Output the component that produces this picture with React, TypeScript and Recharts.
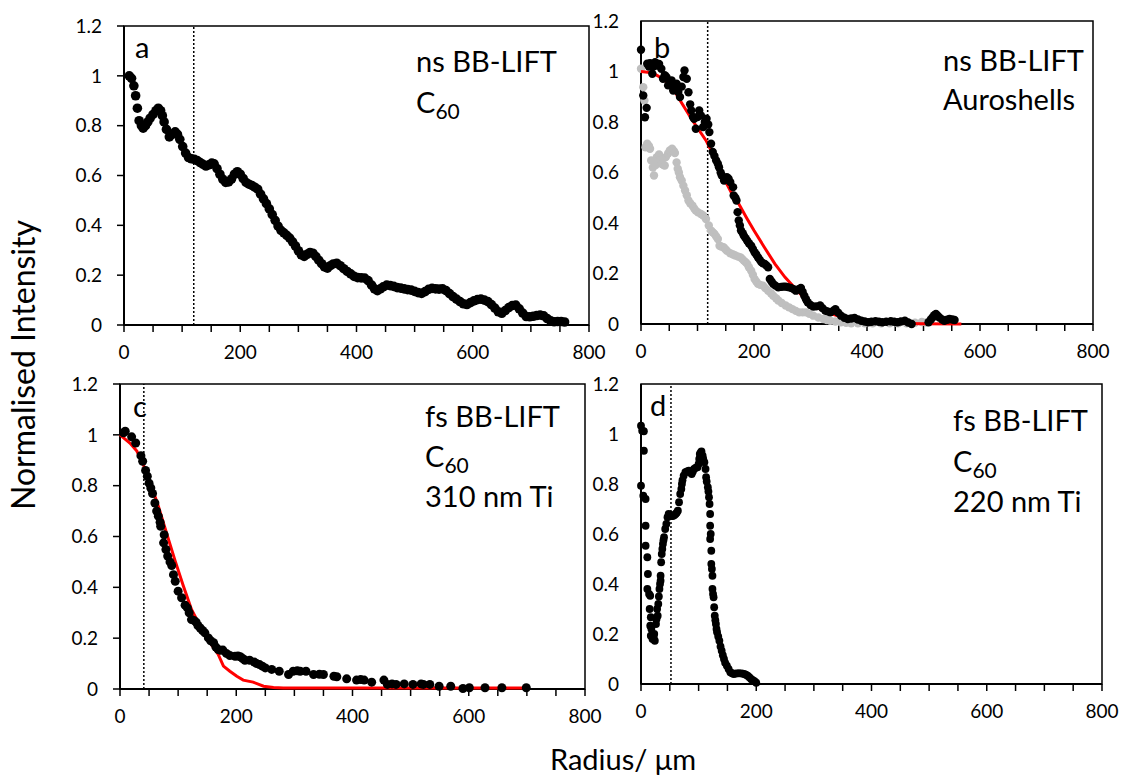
import React from 'react';
import { ScatterChart, Scatter, XAxis, YAxis, ReferenceLine, ReferenceArea } from 'recharts';

type Pt = [number, number];

const FONT = 'Lato, "Open Sans", sans-serif';

const xTicks = [0, 50, 100, 150, 200, 250, 300, 350, 400, 450, 500, 550, 600, 650, 700, 750, 800];
const xLabelled = [0, 200, 400, 600, 800];
const yTicks = [0, 0.2, 0.4, 0.6, 0.8, 1, 1.2];

// panel a: ns BB-LIFT, C60
const aBlack: Pt[] = [
  [9, 1.0], [13, 0.99], [17, 0.96], [20, 0.92], [23, 0.87], [26, 0.82], [30, 0.8], [33, 0.79], [37, 0.8],
  [41, 0.815], [45, 0.83], [50, 0.845], [55, 0.86], [59, 0.87], [63, 0.86], [66, 0.84], [69, 0.815], [73, 0.785],
  [78, 0.755], [83, 0.765], [88, 0.775], [92, 0.765], [96, 0.745], [101, 0.716], [106, 0.69], [111, 0.672],
  [116, 0.667], [121, 0.665], [126, 0.66], [131, 0.652], [136, 0.645], [141, 0.638], [146, 0.643], [151, 0.65],
  [155, 0.647], [160, 0.628], [165, 0.605], [170, 0.585], [175, 0.572], [180, 0.574], [185, 0.586], [190, 0.605],
  [195, 0.615], [200, 0.605], [205, 0.588], [210, 0.572], [215, 0.565], [220, 0.56], [225, 0.553], [230, 0.545],
  [235, 0.525], [240, 0.506], [245, 0.487], [250, 0.466], [255, 0.443], [260, 0.42], [265, 0.397], [270, 0.38],
  [275, 0.37], [280, 0.36], [285, 0.349], [290, 0.334], [295, 0.317], [300, 0.298], [305, 0.282], [310, 0.275],
  [315, 0.284], [320, 0.291], [325, 0.288], [330, 0.275], [335, 0.26], [340, 0.246], [345, 0.233], [350, 0.228],
  [355, 0.238], [360, 0.245], [366, 0.248], [372, 0.238], [378, 0.226], [384, 0.215], [390, 0.205], [396, 0.195],
  [402, 0.19], [408, 0.189], [414, 0.188], [420, 0.178], [426, 0.16], [431, 0.145], [436, 0.138], [441, 0.145],
  [446, 0.153], [452, 0.16], [458, 0.158], [464, 0.155], [470, 0.15], [476, 0.148], [482, 0.145], [488, 0.142],
  [494, 0.14], [500, 0.135], [506, 0.13], [512, 0.127], [518, 0.134], [524, 0.143], [530, 0.147], [536, 0.145],
  [542, 0.144], [548, 0.145], [554, 0.138], [560, 0.126], [566, 0.114], [572, 0.104], [578, 0.094], [584, 0.085],
  [590, 0.082], [596, 0.09], [602, 0.097], [608, 0.102], [614, 0.104], [620, 0.1], [626, 0.094], [632, 0.082],
  [638, 0.068], [644, 0.053], [650, 0.047], [656, 0.058], [662, 0.07], [668, 0.078], [674, 0.08], [680, 0.065],
  [686, 0.048], [692, 0.034], [698, 0.033], [704, 0.035], [710, 0.038], [716, 0.04], [722, 0.037], [728, 0.026],
  [734, 0.017], [740, 0.013], [746, 0.014], [752, 0.014], [758, 0.012],
];

// panel b: ns BB-LIFT, Auroshells
const bBlack: Pt[] = [
  [0, 1.086], [4, 0.905], [7, 0.819], [10, 0.856], [11, 1.031], [14, 1.02], [16, 1.033], [20, 0.991], [22, 1.02],
  [25, 1.037], [29, 1.024], [32, 1.03], [36, 1.011], [39, 0.971], [42, 0.985], [45, 0.978], [48, 0.945], [51, 0.955],
  [54, 0.965], [57, 0.925], [60, 0.94], [63, 0.952], [66, 0.92], [69, 0.899], [72, 0.94], [75, 0.978], [77, 1.004],
  [81, 0.971], [84, 0.918], [87, 0.87], [89, 0.846], [92, 0.82], [94, 0.813], [97, 0.773], [100, 0.82], [103, 0.846],
  [106, 0.826], [110, 0.78], [113, 0.8], [116, 0.813], [119, 0.79], [121, 0.76], [124, 0.714], [127, 0.681],
  [130, 0.665], [133, 0.648], [136, 0.635], [138, 0.621], [141, 0.6], [143, 0.588], [147, 0.568], [152, 0.581],
  [155, 0.575], [158, 0.562], [163, 0.542], [164, 0.509], [167, 0.5], [169, 0.489], [171, 0.443], [173, 0.41],
  [175, 0.39], [177, 0.37], [180, 0.36], [182, 0.35], [185, 0.34], [188, 0.33], [191, 0.32], [195, 0.31],
  [198, 0.297], [201, 0.284], [204, 0.275], [207, 0.264], [210, 0.255], [213, 0.245], [216, 0.24], [219, 0.238],
  [222, 0.232], [225, 0.225], [228, 0.178], [231, 0.168], [234, 0.159], [238, 0.152], [243, 0.145], [248, 0.147],
  [252, 0.148], [256, 0.148], [260, 0.146], [265, 0.143], [270, 0.138], [274, 0.132], [279, 0.138], [283, 0.143],
  [286, 0.128], [289, 0.112], [292, 0.098], [295, 0.086], [300, 0.075], [305, 0.069], [310, 0.07], [317, 0.073],
  [321, 0.063], [326, 0.053], [330, 0.05], [335, 0.046], [340, 0.052], [344, 0.059], [349, 0.045], [354, 0.033],
  [360, 0.025], [366, 0.02], [372, 0.022], [378, 0.024], [384, 0.018], [390, 0.013], [396, 0.01], [402, 0.007],
  [408, 0.009], [415, 0.011], [421, 0.009], [427, 0.007], [434, 0.009], [442, 0.011], [448, 0.009], [454, 0.007],
  [460, 0.01], [467, 0.013], [473, 0.006], [479, 0.0], [509, 0.007], [513, 0.018], [516, 0.026], [519, 0.035],
  [522, 0.04], [525, 0.033], [528, 0.026], [533, 0.018], [537, 0.013], [542, 0.017], [546, 0.02], [551, 0.018],
  [555, 0.016],
];

const bGrey: Pt[] = [
  [0, 1.011], [4, 0.938], [6, 0.885], [8, 0.7], [11, 0.714], [14, 0.705], [16, 0.694], [18, 0.648], [21, 0.62],
  [23, 0.588], [26, 0.63], [28, 0.661], [32, 0.671], [35, 0.65], [37, 0.634], [40, 0.63], [42, 0.628], [44, 0.661],
  [48, 0.675], [51, 0.687], [55, 0.694], [58, 0.685], [60, 0.677], [63, 0.64], [65, 0.615], [67, 0.6], [69, 0.581],
  [72, 0.568], [75, 0.548], [78, 0.529], [81, 0.51], [84, 0.489], [87, 0.478], [91, 0.469], [94, 0.458], [97, 0.449],
  [101, 0.442], [106, 0.436], [110, 0.43], [115, 0.416], [120, 0.39], [124, 0.37], [127, 0.363], [130, 0.357],
  [133, 0.347], [136, 0.337], [139, 0.31], [142, 0.307], [146, 0.304], [149, 0.297], [152, 0.29], [158, 0.28],
  [163, 0.275], [167, 0.271], [172, 0.267], [176, 0.264], [179, 0.258], [182, 0.251], [185, 0.245], [188, 0.238],
  [191, 0.225], [195, 0.211], [198, 0.195], [201, 0.178], [204, 0.168], [207, 0.159], [211, 0.155], [216, 0.152],
  [220, 0.142], [225, 0.132], [230, 0.122], [234, 0.112], [239, 0.102], [243, 0.093], [249, 0.083], [256, 0.073],
  [262, 0.066], [268, 0.059], [274, 0.052], [280, 0.046], [286, 0.046], [292, 0.046], [298, 0.04], [305, 0.033],
  [314, 0.026], [323, 0.02], [329, 0.016], [335, 0.013], [344, 0.01], [354, 0.007], [363, 0.005], [372, 0.003],
  [384, 0.003], [396, 0.003], [410, 0.003], [425, 0.003], [440, 0.003], [455, 0.003], [470, 0.003], [485, 0.005],
  [497, 0.008], [505, 0.006],
];

const bFit: Pt[] = [
  [0, 1.0], [20, 0.995], [40, 0.97], [60, 0.92], [72, 0.875], [90, 0.81], [115, 0.727], [130, 0.66], [146, 0.58],
  [160, 0.52], [173, 0.476], [187, 0.42], [200, 0.37], [218, 0.305], [237, 0.238], [255, 0.185], [274, 0.139],
  [292, 0.095], [311, 0.066], [330, 0.045], [347, 0.033], [365, 0.02], [384, 0.013], [410, 0.007], [445, 0.003],
  [500, 0.001], [567, 0],
];

// panel c: fs BB-LIFT, C60, 310 nm Ti
const cBlack: Pt[] = [
  [6, 1.008], [9, 1.014], [20, 0.992], [27, 0.968], [36, 0.918], [39, 0.896], [44, 0.86], [47, 0.837], [50, 0.81],
  [53, 0.791], [56, 0.769], [60, 0.732], [63, 0.7], [66, 0.68], [69, 0.656], [70, 0.64], [75, 0.575], [76, 0.607],
  [79, 0.549], [82, 0.523], [86, 0.5], [89, 0.486], [92, 0.45], [95, 0.424], [100, 0.385], [106, 0.359], [112, 0.33],
  [116, 0.319], [119, 0.3], [123, 0.273], [127, 0.27], [131, 0.263], [134, 0.25], [138, 0.24], [142, 0.23],
  [146, 0.221], [152, 0.201], [156, 0.19], [161, 0.182], [165, 0.165], [169, 0.155], [173, 0.152], [177, 0.153],
  [183, 0.14], [189, 0.132], [198, 0.129], [203, 0.13], [207, 0.127], [211, 0.12], [215, 0.113], [223, 0.113],
  [231, 0.106], [235, 0.1], [240, 0.096], [245, 0.09], [250, 0.083], [261, 0.077], [274, 0.07], [290, 0.057],
  [298, 0.07], [305, 0.072], [310, 0.07], [320, 0.07], [333, 0.057], [343, 0.058], [350, 0.057], [368, 0.05],
  [373, 0.048], [390, 0.04], [407, 0.035], [414, 0.037], [420, 0.035], [433, 0.027], [454, 0.035], [460, 0.018],
  [468, 0.02], [475, 0.018], [489, 0.02], [504, 0.018], [518, 0.02], [522, 0.018], [533, 0.018], [549, 0.011],
  [569, 0.011], [590, 0.002], [601, 0.005], [628, 0.005], [657, 0.005], [699, 0.005],
];

const cFit: Pt[] = [
  [0, 1.0], [17, 0.968], [29, 0.936], [40, 0.883], [52, 0.811], [66, 0.719], [80, 0.614], [95, 0.503], [109, 0.405],
  [123, 0.313], [138, 0.247], [155, 0.182], [169, 0.136], [178, 0.09], [189, 0.07], [201, 0.05], [212, 0.035],
  [229, 0.027], [247, 0.011], [264, 0.006], [281, 0.004], [400, 0.004], [550, 0.004], [700, 0.004],
];

// panel d: fs BB-LIFT, C60, 220 nm Ti
const dBlack: Pt[] = [
  [0, 1.033], [2, 1.013], [5, 1.011], [5, 0.933], [0, 0.793], [4, 0.753], [8, 0.74], [8, 0.633], [8, 0.553],
  [11, 0.507], [12, 0.44], [11, 0.38], [14, 0.36], [15, 0.3], [16, 0.353], [17, 0.267], [16, 0.233], [18, 0.22],
  [17, 0.193], [20, 0.18], [22, 0.185], [24, 0.173], [23, 0.2], [26, 0.24], [27, 0.26], [28, 0.3], [29, 0.273],
  [30, 0.32], [31, 0.35], [32, 0.38], [33, 0.4], [34, 0.413], [34, 0.433], [35, 0.487], [36, 0.52], [37, 0.54],
  [38, 0.56], [39, 0.575], [40, 0.587], [42, 0.62], [44, 0.64], [46, 0.667], [48, 0.68], [50, 0.675], [52, 0.673],
  [54, 0.672], [56, 0.673], [58, 0.676], [60, 0.68], [62, 0.685], [64, 0.693], [66, 0.727], [68, 0.76], [70, 0.78],
  [71, 0.8], [72, 0.815], [74, 0.833], [77, 0.847], [80, 0.85], [83, 0.853], [85, 0.848], [88, 0.84], [90, 0.85],
  [92, 0.86], [95, 0.865], [98, 0.867], [100, 0.88], [101, 0.9], [102, 0.92], [104, 0.927], [105, 0.93],
  [107, 0.913], [108, 0.9], [110, 0.887], [112, 0.86], [113, 0.827], [114, 0.81], [116, 0.787], [117, 0.77],
  [118, 0.747], [119, 0.72], [120, 0.68], [120, 0.633], [121, 0.6], [120, 0.58], [122, 0.533], [122, 0.48],
  [123, 0.46], [124, 0.433], [124, 0.38], [125, 0.36], [126, 0.347], [127, 0.307], [128, 0.273], [129, 0.255],
  [130, 0.24], [131, 0.22], [132, 0.207], [134, 0.19], [136, 0.173], [138, 0.15], [140, 0.133], [142, 0.115],
  [144, 0.1], [146, 0.085], [149, 0.073], [152, 0.06], [155, 0.047], [158, 0.043], [161, 0.04], [165, 0.042],
  [170, 0.043], [175, 0.042], [179, 0.04], [182, 0.037], [185, 0.033], [188, 0.027], [191, 0.02], [194, 0.015],
  [197, 0.011], [200, 0.005],
];

const rows = (pts: Pt[]) => pts.map(([x, y]) => ({ x, y }));

const XTick = (props: any) => {
  const { x, y, payload } = props;
  if (!xLabelled.includes(payload.value)) return <g />;
  return (
    <text x={x} y={y} dy={21} textAnchor="middle" fontFamily={FONT} fontSize={19} fill="#000">
      {payload.value}
    </text>
  );
};

type Series = { pts: Pt[]; kind: 'dot' | 'fit'; color: string; r?: number };

type PanelProps = {
  x0: number; x1: number; y0: number; y1: number;
  yTickLine: boolean;
  marker: number;
  series: Series[];
};

const M = { top: 12, right: 30, bottom: 0, left: 0 };
const YW = 60;
const XH = 40;

function Panel({ x0, x1, y0, y1, yTickLine, marker, series }: PanelProps) {
  const w = x1 - x0 + YW + M.left + M.right;
  const h = y1 - y0 + M.top + M.bottom + XH;
  return (
    <div style={{ position: 'absolute', left: x0 - YW - M.left, top: y0 - M.top }}>
      <ScatterChart width={w} height={h} margin={M}>
        <XAxis
          type="number"
          dataKey="x"
          domain={[0, 800]}
          ticks={xTicks}
          interval={0}
          height={XH}
          tickSize={7}
          tickMargin={6}
          axisLine={{ stroke: '#000', strokeWidth: 2 }}
          tickLine={{ stroke: '#000', strokeWidth: 1.5 }}
          tick={<XTick />}
        />
        <YAxis
          type="number"
          dataKey="y"
          domain={[0, 1.2]}
          ticks={yTicks}
          interval={0}
          width={YW}
          tickSize={7}
          tickMargin={15}
          axisLine={{ stroke: '#000', strokeWidth: 2 }}
          tickLine={yTickLine ? { stroke: '#000', strokeWidth: 1.5 } : false}
          tick={{ fill: '#000', fontSize: 19, fontFamily: FONT }}
        />
        <ReferenceArea x1={0} x2={800} y1={0} y2={1.2} fill="none" stroke="#000" strokeWidth={1.5} />
        <ReferenceLine x={marker} stroke="#000" strokeWidth={1.5} strokeDasharray="2 2" />
        {series.map((s, i) =>
          s.kind === 'fit' ? (
            <Scatter
              key={i}
              data={rows(s.pts)}
              line={{ stroke: s.color, strokeWidth: 3 }}
              lineType="joint"
              shape={() => <g />}
              isAnimationActive={false}
            />
          ) : (
            <Scatter
              key={i}
              data={rows(s.pts)}
              shape={(p: any) => <circle cx={p.cx} cy={p.cy} r={s.r ?? 4.5} fill={s.color} />}
              isAnimationActive={false}
            />
          )
        )}
      </ScatterChart>
    </div>
  );
}

const txt = { fontFamily: FONT, fill: '#000' } as const;

export default function App() {
  return (
    <div style={{ position: 'absolute', left: 0, top: 0, width: 1145, height: 783, background: '#fff', overflow: 'hidden' }}>
      <Panel x0={124} x1={589} y0={26} y1={325} yTickLine marker={120} series={[{ pts: aBlack, kind: 'dot', color: '#000', r: 4.8 }]} />
      <Panel
        x0={641} x1={1093} y0={21} y1={324} yTickLine={false} marker={118}
        series={[
          { pts: bGrey, kind: 'dot', color: '#BFBFBF', r: 4.2 },
          { pts: bFit, kind: 'fit', color: '#FF0000' },
          { pts: bBlack, kind: 'dot', color: '#000', r: 4.2 },
        ]}
      />
      <Panel
        x0={120} x1={585} y0={384} y1={689} yTickLine marker={41}
        series={[
          { pts: cFit, kind: 'fit', color: '#FF0000' },
          { pts: cBlack, kind: 'dot', color: '#000', r: 4.5 },
        ]}
      />
      <Panel x0={641} x1={1102} y0={384} y1={684} yTickLine={false} marker={52} series={[{ pts: dBlack, kind: 'dot', color: '#000', r: 3.9 }]} />

      <svg width={1145} height={783} style={{ position: 'absolute', left: 0, top: 0, pointerEvents: 'none' }}>
        <g {...txt} fontSize={29}>
          <text x={135} y={58}>a</text>
          <text x={416} y={72}>ns BB-LIFT</text>
          <text x={416} y={113}>C<tspan fontSize={21} dy={6}>60</tspan></text>

          <text x={654} y={58}>b</text>
          <text x={943} y={71}>ns BB-LIFT</text>
          <text x={943} y={110}>Auroshells</text>

          <text x={133} y={417}>c</text>
          <text x={425} y={427}>fs BB-LIFT</text>
          <text x={425} y={467}>C<tspan fontSize={21} dy={6}>60</tspan></text>
          <text x={425} y={507}>310 nm Ti</text>

          <text x={650} y={416}>d</text>
          <text x={953} y={431}>fs BB-LIFT</text>
          <text x={953} y={472}>C<tspan fontSize={21} dy={6}>60</tspan></text>
          <text x={953} y={512}>220 nm Ti</text>
        </g>
        <text {...txt} fontSize={32} textAnchor="middle" transform="translate(35,365) rotate(-90)">Normalised Intensity</text>
        <text {...txt} fontSize={29} textAnchor="middle" x={623} y={770}>Radius/ μm</text>
      </svg>
    </div>
  );
}
